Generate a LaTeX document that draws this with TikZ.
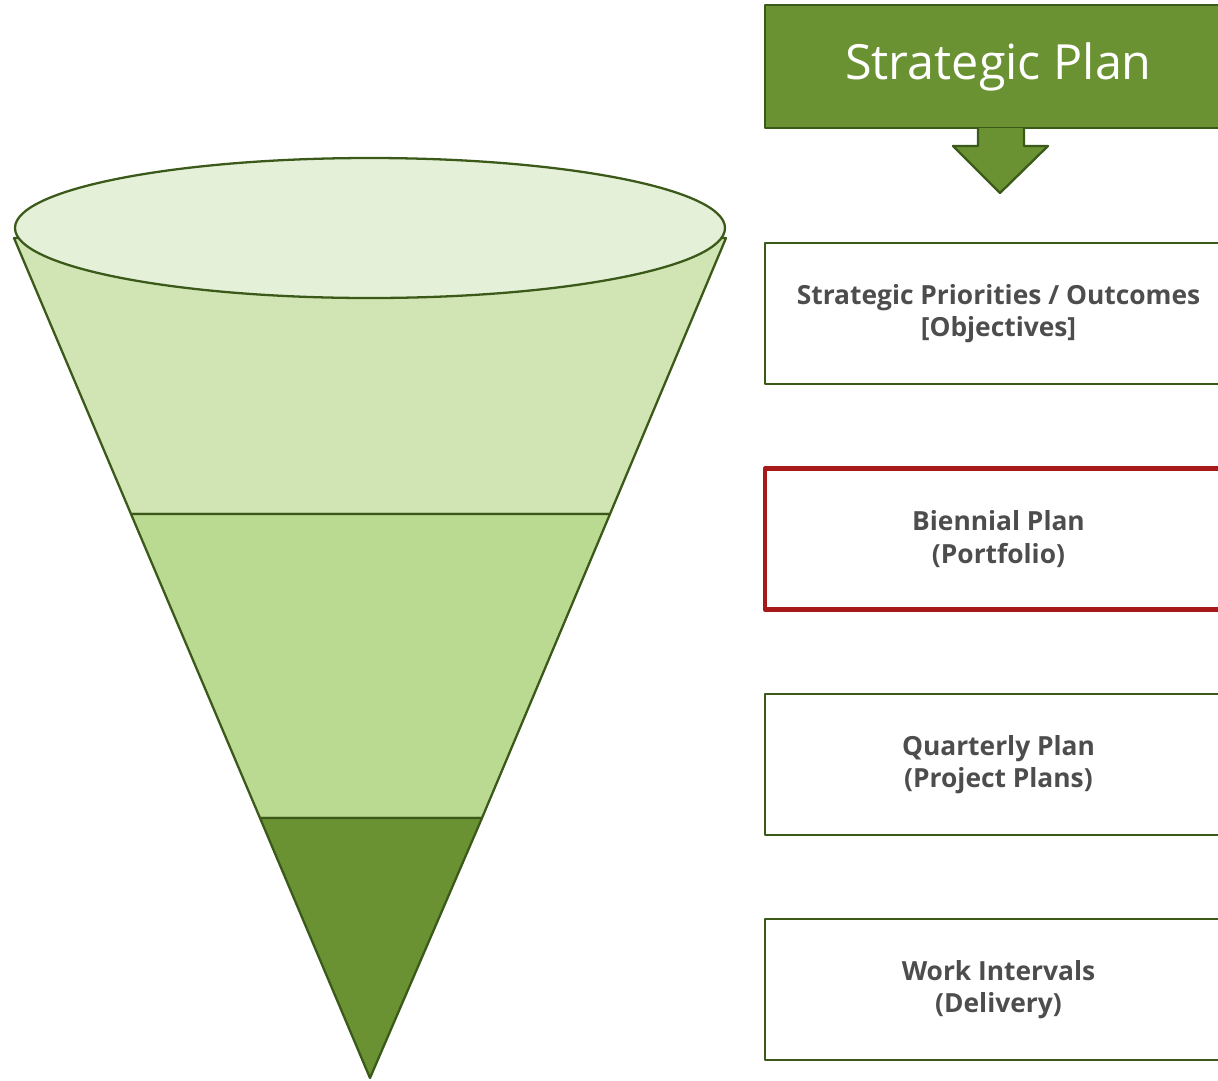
\documentclass[tikz,border=0pt]{standalone}
\usepackage{fontspec}
\setmainfont{Open Sans}
\usetikzlibrary{positioning}
\definecolor{leaf}{HTML}{6A9232}
\definecolor{stem}{HTML}{3B5A1A}
\definecolor{rim}{HTML}{E5F0D8}
\definecolor{bandA}{HTML}{D1E4B3}
\definecolor{bandB}{HTML}{BADA92}
\definecolor{alert}{HTML}{A8191A}
\definecolor{ink}{HTML}{4D4D4D}
\begin{document}
\begin{tikzpicture}[x=0.02cm, y=-0.02cm, line join=round,
  level/.style = {draw=stem, line width=1.3pt, fill=white, minimum width=9.34cm, minimum height=2.82cm,
    align=center, text=ink, font=\fontsize{15}{18.5}\selectfont\bfseries,
    execute at begin node={\rule{0pt}{15pt}}},
  band/.style = {draw=stem, line width=1.3pt}]
\useasboundingbox (0,0) rectangle (1218,1080);

% funnel
\coordinate (tip) at (370,1078);
\filldraw[band, fill=bandA] (14,238) -- (131,514) -- (610,514) -- (726,238) -- cycle;
\filldraw[band, fill=bandB] (131,514) -- (260,818) -- (482,818) -- (610,514) -- cycle;
\filldraw[band, fill=leaf] (260,818) -- (tip) -- (482,818) -- cycle;
\filldraw[band, fill=rim] (370,228) ellipse [x radius=355, y radius=70];

% plan boxes
\node[draw=stem, line width=1.3pt, fill=leaf, minimum width=9.34cm, minimum height=2.46cm, text=white,
  font=\fontsize{27.6}{32}\selectfont] (strat) at (998.5,66.5) {Strategic Plan};
\filldraw[draw=stem, line width=1.3pt, fill=leaf] (978,128) -- (978,146) -- (953,146) -- (1000,193)
  -- (1048,146) -- (1024,146) -- (1024,128);
\node[level] (prio) at (998.5,313.5) {Strategic Priorities / Outcomes\\{}[Objectives]};
\node[level, draw=alert, line width=2.6pt] (bien) at (998.5,539) {Biennial Plan\\(Portfolio)};
\node[level] (quart) at (998.5,764.5) {Quarterly Plan\\(Project Plans)};
\node[level] (work) at (998.5,989.5) {Work Intervals\\(Delivery)};
\end{tikzpicture}
\end{document}
